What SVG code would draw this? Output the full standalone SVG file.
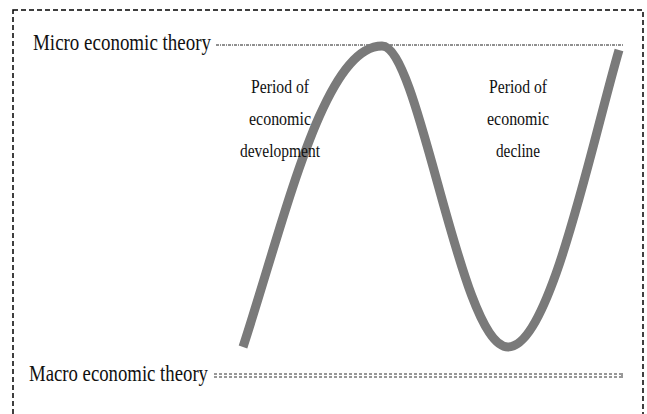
<svg xmlns="http://www.w3.org/2000/svg" width="647" height="414" viewBox="0 0 647 414">
<style>
.lbl{font-family:"Liberation Serif","Times New Roman",serif;fill:#111;}
.axis{font-size:24px;}
.per{font-size:19px;text-anchor:middle;}
</style>
<rect x="0" y="0" width="647" height="414" fill="#fff"/>
<rect id="frame" x="13" y="10" width="630" height="420" fill="none" stroke="#000" stroke-width="1.5" stroke-dasharray="5 3"/>
<g id="connectors">
<path id="micro-line" d="M216,45 H623" stroke="#222" stroke-width="1" stroke-dasharray="3 1 1 1" fill="none"/>
<g id="macro-line" stroke="#333" stroke-width="1" fill="none">
<path d="M214,374 H621" stroke-dasharray="3 2"/>
<path d="M214,377 H621" stroke-dasharray="3 2"/>
<path d="M622,373 V378"/>
</g>
<path id="curve" d="M243,347 C286,215 324,46 382,46 C420,46 460,347 508,347 C550,347 590,150 619,50" fill="none" stroke="#7a7a7a" stroke-width="9"/>
</g>
<g id="micro">
<text class="lbl axis" font-family="Liberation Serif, serif" x="33" y="50" textLength="178" lengthAdjust="spacingAndGlyphs">Micro economic theory</text>
</g>
<g id="macro">
<text class="lbl axis" font-family="Liberation Serif, serif" x="29" y="381" textLength="179" lengthAdjust="spacingAndGlyphs">Macro economic theory</text>
</g>
<g id="development">
<text class="lbl per" font-family="Liberation Serif, serif" x="280" y="93" textLength="58" lengthAdjust="spacingAndGlyphs">Period of</text>
<text class="lbl per" font-family="Liberation Serif, serif" x="280" y="125" textLength="62" lengthAdjust="spacingAndGlyphs">economic</text>
<text class="lbl per" font-family="Liberation Serif, serif" x="280" y="157" textLength="80" lengthAdjust="spacingAndGlyphs">development</text>
</g>
<g id="decline">
<text class="lbl per" font-family="Liberation Serif, serif" x="518" y="93" textLength="58" lengthAdjust="spacingAndGlyphs">Period of</text>
<text class="lbl per" font-family="Liberation Serif, serif" x="518" y="125" textLength="62" lengthAdjust="spacingAndGlyphs">economic</text>
<text class="lbl per" font-family="Liberation Serif, serif" x="518" y="157" textLength="44" lengthAdjust="spacingAndGlyphs">decline</text>
</g>
</svg>
